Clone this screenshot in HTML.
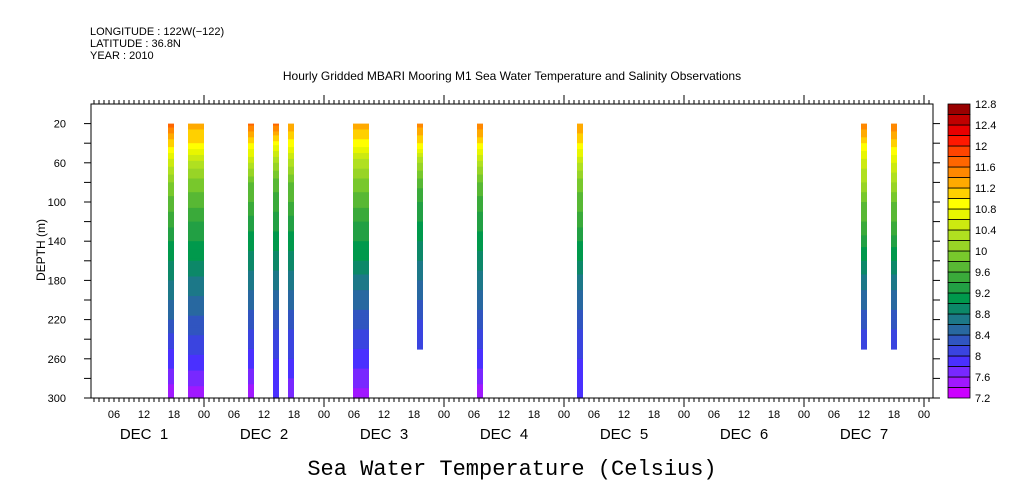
<!DOCTYPE html>
<html><head><meta charset="utf-8"><style>
body{margin:0;background:#fff;}
svg{display:block;font-family:"Liberation Sans",sans-serif;}
</style></head><body>
<svg id="chart" width="1009" height="504" viewBox="0 0 1009 504" xmlns="http://www.w3.org/2000/svg">
<g font-size="11" fill="#000">
<text x="90" y="35">LONGITUDE : 122W(−122)</text>
<text x="90" y="47">LATITUDE : 36.8N</text>
<text x="90" y="59">YEAR : 2010</text>
</g>
<text x="512" y="80" text-anchor="middle" font-size="12">Hourly Gridded MBARI Mooring M1 Sea Water Temperature and Salinity Observations</text>
<text transform="translate(45,250) rotate(-90)" text-anchor="middle" font-size="12">DEPTH (m)</text>
<text x="512" y="475" text-anchor="middle" font-family="Liberation Mono, monospace" font-size="22">Sea Water Temperature (Celsius)</text>
<g id="bars"></g>
<g id="axes"></g>
<g id="cbar"></g>
</svg>
<script>
// ---- data ----
const depths = [20,40,60,80,100,120,140,160,180,200,220,240,260,280,300];
const colStart = [16.8,20.8,32.8,37.8,40.8,53.8,66.6,78.6,98.6,155.4,161.4];
const colEnd   = [18,24,34,39,42,57,67.8,79.8,99.8,156.6,162.6];
const colBottom= [300,300,300,300,300,300,250,300,300,250,250];
const profiles = [
 [11.7,11.1,10.5,10.0,9.7,9.5,9.2,9.0,8.8,8.6,8.4,8.1,7.9,7.7,7.4],
 [11.3,11.0,10.3,9.9,9.7,9.4,9.2,9.0,8.75,8.55,8.35,8.15,7.95,7.7,7.45],
 [11.7,11.0,10.4,9.8,9.6,9.3,9.1,8.9,8.7,8.5,8.3,8.1,7.9,7.7,7.4],
 [11.7,10.9,10.2,9.7,9.5,9.3,9.1,8.9,8.7,8.5,8.3,8.1,8.0,7.9,7.8],
 [11.4,10.9,10.3,9.8,9.6,9.3,9.1,8.9,8.7,8.5,8.3,8.1,8.0,7.8,7.7],
 [11.3,10.9,10.3,9.9,9.7,9.4,9.2,9.0,8.7,8.5,8.3,8.1,7.9,7.7,7.5],
 [11.5,11.0,10.2,9.7,9.4,9.2,9.0,8.8,8.6,8.4,8.2,8.1,8.0,7.9,7.8],
 [11.6,11.0,10.3,9.8,9.5,9.3,9.1,8.9,8.7,8.5,8.3,8.1,7.9,7.7,7.4],
 [11.4,11.0,10.4,9.9,9.7,9.5,9.2,9.0,8.7,8.5,8.3,8.1,8.0,7.9,7.8],
 [11.6,11.0,10.5,10.2,9.8,9.6,9.3,9.0,8.7,8.5,8.3,8.1,8.0,7.9,7.8],
 [11.6,11.1,10.6,10.2,9.8,9.6,9.3,9.0,8.7,8.5,8.3,8.1,8.0,7.9,7.8]
];
const levels = [7.2,7.4,7.6,7.8,8.0,8.2,8.4,8.6,8.8,9.0,9.2,9.4,9.6,9.8,10.0,10.2,10.4,10.6,10.8,11.0,11.2,11.4,11.6,11.8,12.0,12.2,12.4,12.6,12.8];
const colors = ["#cc00ff","#a018ff","#7828ff","#4a30ff","#3a44e0","#3055c0","#2868a0","#1c7888","#0c8868","#00994c","#22a044","#3aaa3a","#58b834","#78c82c","#98d426","#b0e020","#ccea10","#e8f600","#ffff00","#ffd000","#ffaa00","#ff8800","#ff6600","#ff4400","#ff1800","#e80000","#c00000","#990000"];
const cbLabels = ["7.2","7.6","8","8.4","8.8","9.2","9.6","10","10.4","10.8","11.2","11.6","12","12.4","12.8"];
const yTicks = [20,60,100,140,180,220,260,300];
const hourLabels = ["06","12","18","00"];
const dayLabels = ["DEC  1","DEC  2","DEC  3","DEC  4","DEC  5","DEC  6","DEC  7"];
// ---- geometry ----
const L=91,R=933,T=104,B=398,X0=84,PXH=5;
const xS=h=>X0+h*PXH;
const yS=d=>T+(d/300)*(B-T);
const NS="http://www.w3.org/2000/svg";
function mk(tag,attrs,parent){const e=document.createElementNS(NS,tag);for(const k in attrs)e.setAttribute(k,attrs[k]);parent.appendChild(e);return e;}
function colorFor(t){for(let i=0;i<colors.length;i++){if(t<levels[i+1])return colors[i];}return colors[colors.length-1];}
function interp(p,d){for(let i=0;i<depths.length-1;i++){if(d<=depths[i+1]){const f=(d-depths[i])/(depths[i+1]-depths[i]);return p[i]+f*(p[i+1]-p[i]);}}return p[p.length-1];}
const bars=document.getElementById('bars');
colStart.forEach((s,i)=>{
  const g=mk('g',{},bars);
  
  
  const x1=xS(s),x2=xS(colEnd[i]);
  for(let d=20;d<colBottom[i];d+=2){
    const t=interp(profiles[i],d+1);
    const r=mk('rect',{x:x1,y:yS(d),width:x2-x1,height:yS(d+2)-yS(d)+0.6,fill:colorFor(t)},g);
    
    
  }
});
const ax=document.getElementById('axes');
mk('rect',{x:L,y:T,width:R-L,height:B-T,fill:'none',stroke:'#000','stroke-width':1},ax);
for(let h=0;h<=170;h++){
  const x=xS(h); if(x<L||x>R)continue;
  const major=h%24===0;
  mk('line',{x1:x,y1:T,x2:x,y2:T-(major?9:4),stroke:'#000'},ax);
  mk('line',{x1:x,y1:B,x2:x,y2:B+(major?9:4),stroke:'#000'},ax);
}
for(let h=6;h<=168;h+=6){
  const t=mk('text',{x:xS(h),y:418,'text-anchor':'middle','font-size':11},ax);
  t.textContent=hourLabels[(h/6-1)%4];
  
  
}
dayLabels.forEach((d,i)=>{
  const t=mk('text',{x:xS(i*24+12),y:439,'text-anchor':'middle','font-size':15},ax);
  t.textContent=d.replace('  ','\u00a0\u00a0');
  
  
});
for(let d=20;d<=300;d+=20){
  mk('line',{x1:L,y1:yS(d),x2:L-7,y2:yS(d),stroke:'#000'},ax);
  mk('line',{x1:R,y1:yS(d),x2:R+7,y2:yS(d),stroke:'#000'},ax);
}
yTicks.forEach(d=>{
  const t=mk('text',{x:66,y:yS(d)+4,'text-anchor':'end','font-size':11},ax);
  t.textContent=d;
  
  
});
const cb=document.getElementById('cbar');
const CX=948,CW=22,n=colors.length,ch=(B-T)/n;
colors.forEach((c,i)=>{
  const r=mk('rect',{x:CX,y:B-(i+1)*ch,width:CW,height:ch,fill:c,stroke:'#000','stroke-width':0.8},cb);
  
  
});
cbLabels.forEach((l,i)=>{
  const t=mk('text',{x:975,y:B-i*2*ch+4,'font-size':11},cb);
  t.textContent=l;
  
  
});
</script>
</body></html>
